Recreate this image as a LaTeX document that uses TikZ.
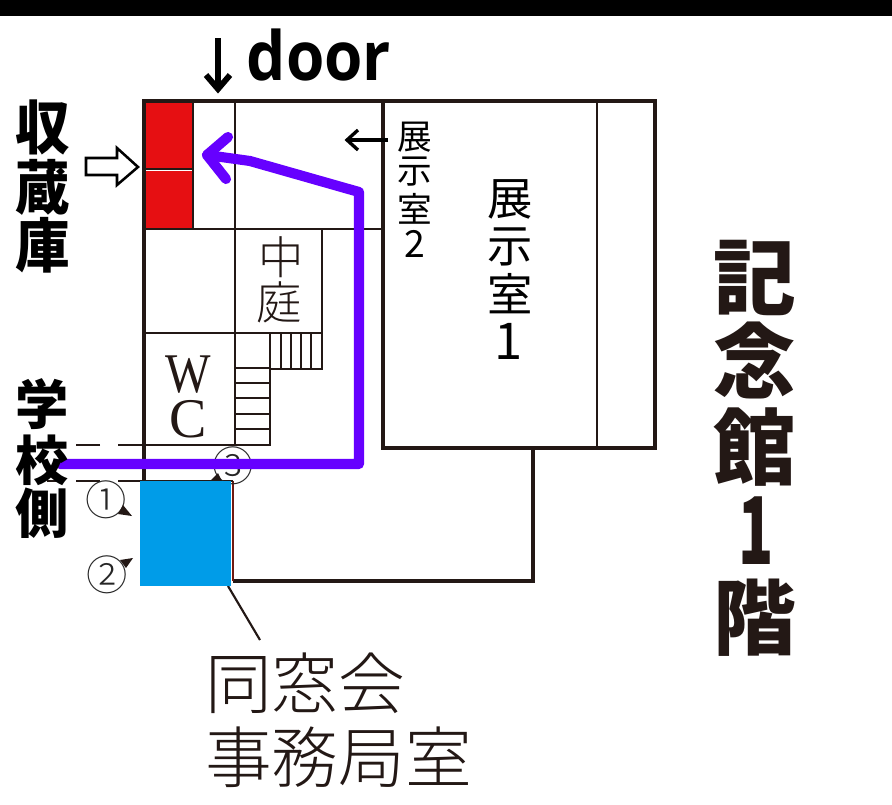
\documentclass[tikz,border=0pt]{standalone}
\usepackage{fontspec}
\setmainfont{Liberation Serif}
\newfontfamily\jpr{Noto Sans CJK JP}
\newfontfamily\jpl{Noto Sans CJK JP Light}
\newcommand{\jpb}{\jpr\bfseries}
\newfontfamily\latb{Open Sans}
\definecolor{route}{HTML}{6600FF}
\definecolor{store}{HTML}{E60F12}
\definecolor{office}{HTML}{009CE8}
\definecolor{ink}{HTML}{231815}
\definecolor{rust}{HTML}{6E1A12}
\tikzset{
  wall/.style={draw=ink,line width=2pt},
  thick wall/.style={draw=ink,line width=2.3pt},
  thin wall/.style={draw=ink,line width=1.4pt},
  lab/.style={inner sep=0pt,outer sep=0pt,text=ink,anchor=center},
  blab/.style={inner sep=0pt,outer sep=0pt,text=black,anchor=center},
  bigb/.style={inner sep=0pt,text=black,anchor=center,font=\jpb\fontsize{44}{44}\selectfont},
  tag/.style={inner sep=0pt,text=black!85,font=\jpl\fontsize{31}{31}\selectfont},
  tri/.style={fill=ink,draw=none},
  routeline/.style={draw=route,line width=7.6pt,line cap=round,line join=round},
  title/.style={lab,font=\jpb\fontsize{62}{62}\selectfont},
}
\begin{document}
\begin{tikzpicture}[x=0.75pt,y=-0.75pt]
\useasboundingbox (0,0) rectangle (892,804);
\fill[white] (0,0) rectangle (892,804);
\fill[black] (0,0) rectangle (892,16);
% red rooms
\fill[store] (146,103) rectangle (192,168);
\fill[store] (146,171) rectangle (192,228);
% plan
\draw[thick wall] (144,481) -- (144,101) -- (655,101) -- (655,448) -- (383,448) -- (383,101);
\draw[wall] (597,101) -- (597,448);
\draw[thick wall] (533,448) -- (533,581) -- (233,581);
\draw[draw=rust,line width=2pt] (233,581) -- (233,481);
\draw[wall] (144,229) -- (383,229);
\draw[wall] (144,169) -- (193,169);
\draw[wall] (193,101) -- (193,229);
\draw[wall] (235,101) -- (235,445);
\draw[wall] (322,229) -- (322,369) -- (270,369);
\draw[wall] (144,333) -- (322,333);
\draw[wall] (144,445) -- (270,445) -- (270,333);
\foreach \x in {281,291,301,311} \draw[thin wall] (\x,333) -- (\x,369);
\foreach \y in {368,383,398,414,429} \draw[thin wall] (235,\y) -- (270,\y);
\draw[wall] (144,481) -- (233,481);
% dashed lines
\draw[thin wall,dash pattern=on 18pt off 13.5pt] (142,445) -- (75,445);
\draw[thin wall,dash pattern=on 18pt off 13.5pt] (142,481) -- (47,481);
% leader
\coordinate (leadA) at (228,586);
\coordinate (leadB) at (260,640);
\draw[draw=ink,line width=1.6pt] (leadA) -- (leadB);
% circled numbers
\node[tag] (c1) at (106,500) {①};
\node[tag] (c2) at (107,575) {②};
\node[tag] (c3) at (233,466) {③};
\fill[tri] (118,514) -- (132,516) -- (123,505) -- cycle;
\fill[tri] (120,560) -- (133,558) -- (126,568) -- cycle;
\fill[tri] (210,481) -- (222,481) -- (218,473) -- cycle;
% blue room
\fill[office] (140,481) rectangle (231,586);
% route
\coordinate (r0) at (60,464);
\coordinate (r1) at (359,464);
\coordinate (r2) at (359,192);
\coordinate (rm) at (250,161);
\coordinate (r3) at (207,155);
\coordinate (h1) at (228,137);
\coordinate (h2) at (226,179);
\draw[routeline] (r0) -- (r1) -- (r2) -- (rm) -- (r3);
\draw[routeline] (h1) -- (r3) -- (h2);
% hollow arrow
\draw[draw=black,fill=white,line width=1.9pt] (86,158) -- (117,158) -- (117,148) -- (138,167) -- (117,185) -- (117,175) -- (86,175) -- cycle;
% small arrows
\coordinate (sa1) at (388,140);
\coordinate (sa2) at (347,140);
\draw[black,line width=2.5pt] (sa1) -- (sa2);
\draw[black,line width=2.5pt] (358,130) -- (347,140) -- (358,150);
\coordinate (da1) at (218,38);
\coordinate (da2) at (218,89);
\draw[black,line width=4.4pt] (da1) -- (da2);
\draw[black,line width=4.4pt] (206,75) -- (218,89) -- (230,75);
% texts
\node[inner sep=0pt,text=black,font=\latb\bfseries\fontsize{49}{49}\selectfont] (door) at (319,55) {\scalebox{.95}[1.04]{door}};
\node[bigb] (s1) at (43,127) {\scalebox{.93}[1]{収}};
\node[bigb] (s2) at (43,187) {\scalebox{.93}[1]{蔵}};
\node[bigb] (s3) at (43,245) {\scalebox{.93}[1]{庫}};
\node[bigb,font=\jpb\fontsize{40}{40}\selectfont] (g1) at (42,404) {学};
\node[bigb,font=\jpb\fontsize{40}{40}\selectfont] (g2) at (42,460) {校};
\node[bigb,font=\jpb\fontsize{40}{40}\selectfont] (g3) at (42,513) {側};
\node[blab,font=\jpr\fontsize{26}{26}\selectfont] (a1) at (415,137) {展};
\node[blab,font=\jpr\fontsize{26}{26}\selectfont] (a2) at (415,172) {示};
\node[blab,font=\jpr\fontsize{26}{26}\selectfont] (a3) at (415,209) {室};
\node[blab,font=\jpr\fontsize{28}{28}\selectfont] (a4) at (415,244) {2};
\node[blab,font=\jpr\fontsize{34}{34}\selectfont] (b1) at (510,199) {展};
\node[blab,font=\jpr\fontsize{34}{34}\selectfont] (b2) at (510,247) {示};
\node[blab,font=\jpr\fontsize{34}{34}\selectfont] (b3) at (510,294) {室};
\node[blab,font=\jpr\fontsize{38}{38}\selectfont] (b4) at (509,341) {1};
\node[lab,font=\jpl\fontsize{34}{34}\selectfont] (n1) at (281,257) {中};
\node[lab,font=\jpl\fontsize{34}{34}\selectfont] (n2) at (279,302) {庭};
\node[lab,align=center,font=\rmfamily\fontsize{42}{34}\selectfont] (wc) at (188,397) {\scalebox{.86}[1]{W}\\C};
\node[title] (k1) at (755,278) {記};
\node[title] (k2) at (755,360) {念};
\node[title] (k3) at (755,447) {館};
\node[title,font=\jpb\fontsize{70}{70}\selectfont] (k4) at (756,531) {\scalebox{.62}[1]{1}};
\node[title] (k5) at (755,618) {階};
\node[lab,anchor=west,font=\jpl\fontsize{50}{50}\selectfont] (o1) at (205,683) {同窓会};
\node[lab,anchor=west,font=\jpl\fontsize{50}{50}\selectfont] (o2) at (205,757) {事務局室};
\end{tikzpicture}
\end{document}
